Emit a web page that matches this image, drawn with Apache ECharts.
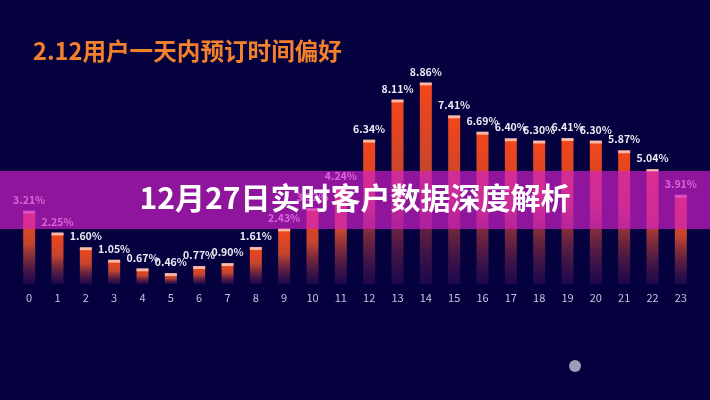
<!DOCTYPE html>
<html>
<head>
<meta charset="utf-8">
<script src="https://cdn.jsdelivr.net/npm/echarts@6/dist/echarts.min.js"></script>
<style>
html,body{margin:0;padding:0;background:#04013e;}
#c{width:710px;height:400px;}
</style>
</head>
<body>
<div id="c"></div>
<script>
var hours = ['0','1','2','3','4','5','6','7','8','9','10','11','12','13','14','15','16','17','18','19','20','21','22','23'];
var shares = [3.21, 2.25, 1.60, 1.05, 0.67, 0.46, 0.77, 0.90, 1.61, 2.43, 3.32, 4.24, 6.34, 8.11, 8.86, 7.41, 6.69, 6.40, 6.30, 6.41, 6.30, 5.87, 5.04, 3.91];
var titleText = '2.12用户一天内预订时间偏好';
var bannerText = '12月27日实时客户数据深度解析';

var chart = echarts.init(document.getElementById('c'), null, {renderer: 'canvas'});
var FONT = '"Noto Sans CJK SC", "Noto Sans", sans-serif';
chart.setOption({
  backgroundColor: '#04013e',
  animation: false,
  title: {
    text: titleText,
    left: 28, top: 34,
    textStyle: {color: '#f2802c', fontSize: 23.6, fontWeight: 'bold', fontFamily: FONT}
  },
  grid: {left: 15, right: 15, top: 57, bottom: 116},
  xAxis: {
    type: 'category', data: hours,
    axisLine: {show: false}, axisTick: {show: false},
    axisLabel: {color: '#c4c4dc', fontSize: 11, margin: 8, fontFamily: FONT}
  },
  yAxis: {type: 'value', min: 0, max: 10, show: false, splitLine: {show: false}},
  series: [
    {
      type: 'bar', data: shares, barWidth: 12,
      itemStyle: {
        color: new echarts.graphic.LinearGradient(0, 0, 0, 1, [
          {offset: 0, color: '#f4461a'},
          {offset: 0.45, color: '#c4452e'},
          {offset: 1, color: 'rgba(45,12,85,0.6)'}
        ])
      },
      label: {
        show: true, position: 'top', distance: 6,
        formatter: function (p) { return p.value.toFixed(2) + '%'; },
        color: '#ececf4', fontSize: 10.5, fontWeight: 'bold', fontFamily: FONT
      }
    },
    {
      type: 'scatter', data: shares, symbol: 'rect', symbolSize: [12, 3],
      symbolOffset: [0, 1], z: 3,
      itemStyle: {color: '#ffd6c8'}, silent: true
    }
  ],
  graphic: [
    {type: 'rect', z: 100, shape: {x: 0, y: 171, width: 710, height: 58},
     style: {fill: 'rgba(210,32,200,0.68)'}},
    {type: 'text', z: 101, left: 'center', top: 183,
     style: {text: bannerText, fill: '#ffffff', fontSize: 30, fontWeight: 'bold', fontFamily: FONT}},
    {type: 'circle', z: 50, shape: {cx: 575, cy: 366, r: 6},
     style: {fill: 'rgba(210,210,225,0.75)'}}
  ]
});
</script>
</body>
</html>
